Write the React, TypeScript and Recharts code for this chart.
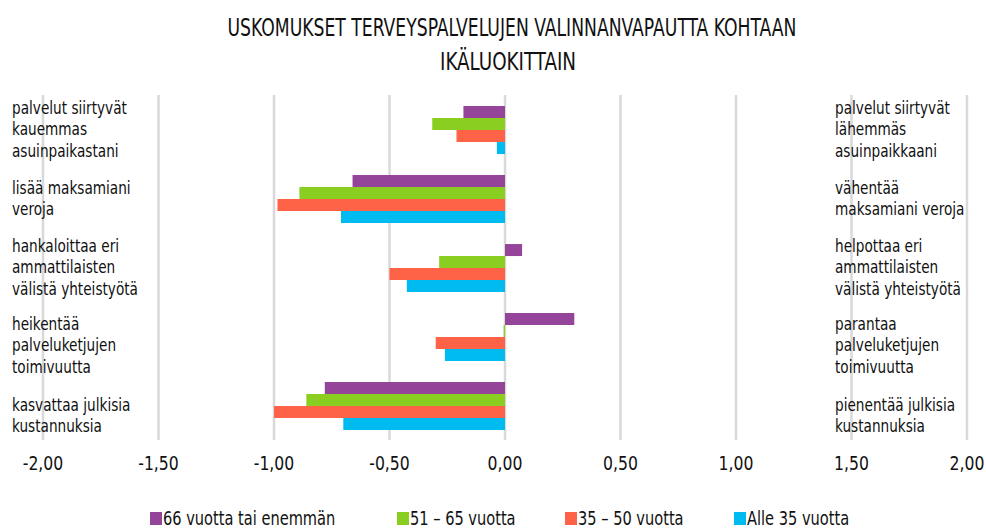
import React from 'react';
import { BarChart, Bar, XAxis, YAxis, CartesianGrid } from 'recharts';

const FONT = '"DejaVu Sans Condensed", "Liberation Sans Narrow", "Noto Sans", sans-serif';

const leftLabels = [
  'palvelut siirtyvät\nkauemmas\nasuinpaikastani',
  'lisää maksamiani\nveroja',
  'hankaloittaa eri\nammattilaisten\nvälistä yhteistyötä',
  'heikentää\npalveluketjujen\ntoimivuutta',
  'kasvattaa julkisia\nkustannuksia',
];
const rightLabels = [
  'palvelut siirtyvät\nlähemmäs\nasuinpaikkaani',
  'vähentää\nmaksamiani veroja',
  'helpottaa eri\nammattilaisten\nvälistä yhteistyötä',
  'parantaa\npalveluketjujen\ntoimivuutta',
  'pienentää julkisia\nkustannuksia',
];

const seriesNames = ['66 vuotta tai enemmän', '51 – 65 vuotta', '35 – 50 vuotta', 'Alle 35 vuotta'];
const seriesColors = ['#954599', '#8ace22', '#ff6347', '#00bbf0'];

const v66 = [-0.18, -0.66, 0.074, 0.3, -0.78];
const v51 = [-0.315, -0.89, -0.285, -0.006, -0.86];
const v35 = [-0.21, -0.985, -0.5, -0.3, -1.0];
const vAlle = [-0.035, -0.71, -0.425, -0.26, -0.7];

const xTicks = [-2, -1.5, -1, -0.5, 0, 0.5, 1, 1.5, 2];

// the text boxes in the original sit a bit lower on the last two rows
const labelShift = [0, 0, 0, 9, 10];

const data = leftLabels.map((l, i) => ({
  left: l,
  right: rightLabels[i],
  s66: v66[i],
  s51: v51[i],
  s35: v35[i],
  sAlle: vAlle[i],
}));
const keys = ['s66', 's51', 's35', 'sAlle'];

const fmt = (v: number) => v.toFixed(2).replace('.', ',');

const SideTick = (props: any) => {
  const { y, payload, index, textX } = props;
  const lines = String(payload.value).split('\n');
  const lh = 21.5;
  const y0 = y - ((lines.length - 1) * lh) / 2 + (labelShift[index] || 0);
  return (
    <g transform={`translate(${textX},${y0}) scale(0.82,1)`}>
      <text x={0} y={6} fontFamily={FONT} fontSize={18.5} fill="#111">
        {lines.map((ln: string, i: number) => (
          <tspan key={i} x={0} y={6 + i * lh}>{ln}</tspan>
        ))}
      </text>
    </g>
  );
};

const XTick = ({ x, y, payload }: any) => (
  <g transform={`translate(${x},${y}) scale(0.87,1)`}>
    <text x={0} y={14} textAnchor="middle" fontFamily={FONT} fontSize={20} fill="#111">
      {fmt(payload.value)}
    </text>
  </g>
);

export default function App() {
  return (
    <div style={{ position: 'absolute', left: 0, top: 0, width: 986, height: 528, background: '#fff' }}>
      <BarChart
        width={986}
        height={528}
        data={data}
        layout="vertical"
        margin={{ top: 95, right: 18, bottom: 58, left: 42 }}
        barCategoryGap="16%"
        barGap={0}
      >
        <CartesianGrid horizontal={false} vertical stroke="#d9d9d9" strokeWidth={2.5} />
        <XAxis
          type="number"
          domain={[-2, 2]}
          ticks={xTicks}
          axisLine={false}
          tickLine={false}
          tickSize={0}
          tickMargin={16}
          height={30}
          interval={0}
          tick={<XTick />}
        />
        <YAxis
          yAxisId="left"
          type="category"
          dataKey="left"
          width={1}
          axisLine={false}
          tickLine={false}
          interval={0}
          tick={<SideTick textX={12} />}
        />
        <YAxis
          yAxisId="right"
          orientation="right"
          type="category"
          dataKey="right"
          width={1}
          axisLine={false}
          tickLine={false}
          interval={0}
          tick={<SideTick textX={835} />}
        />
        {keys.map((k, i) => (
          <Bar key={k} yAxisId="left" dataKey={k} name={seriesNames[i]} fill={seriesColors[i]} isAnimationActive={false} />
        ))}
      </BarChart>
      <svg width={986} height={528} style={{ position: 'absolute', left: 0, top: 0, pointerEvents: 'none' }}>
        <text x={512} y={36} textAnchor="middle" fontFamily={FONT} fontSize={25} fill="#111" textLength={569} lengthAdjust="spacingAndGlyphs">
          USKOMUKSET TERVEYSPALVELUJEN VALINNANVAPAUTTA KOHTAAN
        </text>
        <text x={508} y={70} textAnchor="middle" fontFamily={FONT} fontSize={25} fill="#111" textLength={136} lengthAdjust="spacingAndGlyphs">
          IKÄLUOKITTAIN
        </text>
        {seriesNames.map((n, i) => {
          const lx = [150, 397, 565, 734][i];
          return (
            <g key={n}>
              <rect x={lx} y={512} width={12} height={13} fill={seriesColors[i]} />
              <g transform={`translate(${lx + 13},525) scale(0.855,1)`}>
                <text x={0} y={0} fontFamily={FONT} fontSize={19} fill="#111">{n}</text>
              </g>
            </g>
          );
        })}
      </svg>
    </div>
  );
}
